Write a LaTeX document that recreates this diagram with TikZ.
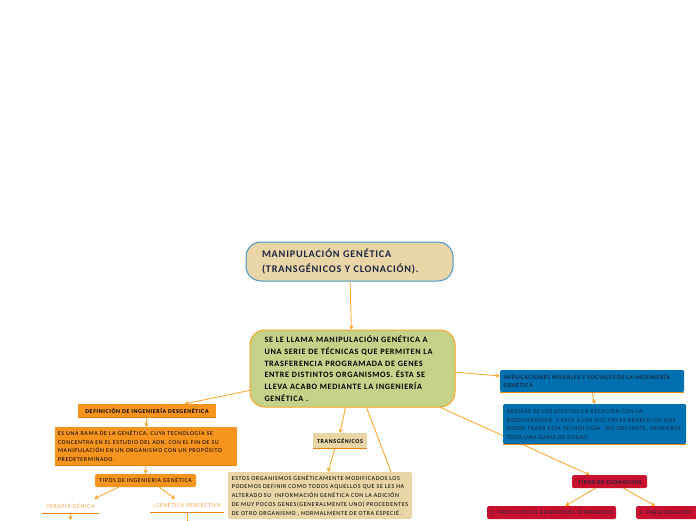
\documentclass[tikz,border=0pt]{standalone}
\usepackage{fontspec}
\setmainfont{Carlito}
\usetikzlibrary{arrows.meta,calc,backgrounds}
\definecolor{conn}{RGB}{248,162,32}
\definecolor{tan}{RGB}{233,213,166}
\definecolor{grn}{RGB}{196,210,138}
\definecolor{org}{RGB}{247,148,30}
\definecolor{orgdark}{RGB}{240,130,10}
\definecolor{blu}{RGB}{0,112,176}
\definecolor{crim}{RGB}{200,16,46}
\definecolor{titleblue}{RGB}{70,150,210}
\definecolor{navy}{RGB}{27,38,66}
\definecolor{lightorg}{RGB}{247,165,70}
\newfontfamily\lsfont[LetterSpace=10]{Carlito}
\newfontfamily\lsbig[LetterSpace=8]{Carlito}
\newfontfamily\lsnarrow[LetterSpace=4]{Carlito}
\tikzset{
  box/.style={inner sep=0pt, align=left, anchor=center},
  tiny/.style={font=\lsfont\fontsize{6}{8.6}\selectfont},
  tinyb/.style={font=\lsfont\bfseries\fontsize{6}{8.6}\selectfont},
  connline/.style={draw=conn, line width=0.8pt},
  conn/.style={connline, -{Stealth[length=4pt,width=4.5pt]}},
  bline/.style={draw=orgdark, line width=1pt},
}
\begin{document}
\begin{tikzpicture}[x=1pt,y=-1pt]
\useasboundingbox (0,0) rectangle (696,520);
% nodes
\node[box, minimum width=207pt, minimum height=39pt, rounded corners=15pt, fill=tan, draw=titleblue, line width=1pt,
  font=\lsbig\bfseries\fontsize{10.2}{15}\selectfont, text=navy, text width=175pt] (title) at (349.5,261.5)
  {MANIPULACIÓN GENÉTICA\\(TRANSGÉNICOS Y CLONACIÓN).};
\node[box, minimum width=205pt, minimum height=77pt, rounded corners=15pt, fill=grn, draw=conn, line width=1pt,
  font=\lsbig\bfseries\fontsize{8.2}{11.7}\selectfont, text width=176pt] (central) at (352.5,368.5)
  {SE LE LLAMA MANIPULACIÓN GENÉTICA A\\UNA SERIE DE TÉCNICAS QUE PERMITEN LA\\TRASFERENCIA PROGRAMADA DE GENES\\ENTRE DISTINTOS ORGANISMOS. ÉSTA SE\\LLEVA ACABO MEDIANTE LA INGENIERÍA\\GENÉTICA .};
\node[box, tinyb, align=center, minimum width=138pt, minimum height=13pt, fill=org] (def) at (147,410.5)
  {DEFINICIÓN DE INGENIERÍA DESGENÉTICA};
\node[box, tiny, minimum width=182pt, minimum height=38pt, fill=org, text width=176pt] (esuna) at (146,446)
  {ES UNA RAMA DE LA GENÉTICA, CUYA TECNOLOGÍA SE\\CONCENTRA EN EL ESTUDIO DEL ADN, CON EL FIN DE SU\\MANIPULACIÓN EN UN ORGANISMO CON UN PROPÓSITO\\PREDETERMINADO.};
\node[box, tiny, align=center, minimum width=101pt, minimum height=13pt, fill=org, rounded corners=1.5pt] (tiposing) at (145.5,480.5)
  {TIPOS DE INGENIERIA GENÉTICA};
\node[box, tiny, align=center, minimum width=57pt, minimum height=14pt, text=lightorg] (terapia) at (70.5,506)
  {TERAPÍA GÉNICA};
\node[box, tiny, align=center, minimum width=74pt, minimum height=13pt, text=lightorg] (perfectiva) at (187,505.5)
  {¡GENÉTICA PERFECTIVA};
\node[box, tinyb, align=center, minimum width=54pt, minimum height=15pt, fill=tan] (trans) at (340,440.5)
  {TRANSGÉNICOS};
\node[box, font=\lsfont\fontsize{6.05}{8.7}\selectfont, minimum width=184pt, minimum height=47pt, fill=tan, rounded corners=2pt, align=left] (estos) at (320,495.5)
  {ESTOS ORGANISMOS GENÉTICAMENTE MODIFICADOS LOS\\PODEMOS DEFINIR COMO TODOS AQUELLOS QUE SE LES HA\\ALTERADO SU \ INFORMACIÓN GENÉTICA CON LA ADICIÓN\\DE MUY POCOS GENES(GENERALMENTE UNO) PROCEDENTES\\DE OTRO ORGANISMO , NORMALMENTE DE OTRA ESPECIÉ .};
\node[box, tinyb, minimum width=184pt, minimum height=22pt, fill=blu, rounded corners=1.5pt, text=navy, text width=177pt] (impl) at (592,381)
  {IMPLICACIONES MORALES Y SOCIALES DE LA INGENIERÍA\\GENÉTICA};
\node[box, tiny, minimum width=183pt, minimum height=40pt, fill=blu, rounded corners=1.5pt, text=navy, text width=176pt] (ademas) at (594.5,424)
  {ADEMÁS DE LOS EFECTOS EN RELACIÓN CON LA\\BIODIVERSIDAD, Y PESE A LOS MÚLTIPLES BENEFICIOS QUE\\PUEDE TRAER ESTA TECNOLOGÍA , NO OBSTANTE, DESPIERTA\\TODA UNA GAMA DE DUDAS.};
\node[box, tinyb, align=center, minimum width=75pt, minimum height=13pt, fill=crim, rounded corners=1.5pt, text=navy] (tiposclon) at (609.5,481.5)
  {TIPOS DE CLONACIÓN};
\node[box, tiny, align=center, minimum width=129pt, minimum height=13pt, fill=crim, rounded corners=1.5pt, text=navy] (part) at (551.5,512.5)
  {1. PARTICIÓN DE EMBRIONES TEMPRANOS};
\node[box, font=\lsnarrow\fontsize{5.8}{8.6}\selectfont, anchor=west, align=left, minimum width=70pt, minimum height=13pt, fill=crim, rounded corners=1.5pt, text=navy, text width=66pt] (para) at (636,512.5)
  {\hspace*{1.5pt}2. PARACLONACIÓN};
% bottom borders
\draw[bline] (def.south west) -- (def.south east);
\draw[bline] (esuna.south west) -- (esuna.south east);
\draw[bline] (trans.south west) -- (trans.south east);
\draw[bline] (impl.south west) -- (impl.south east);
\draw[bline] (ademas.south west) -- (ademas.south east);
\draw[bline, line width=0.8pt] (terapia.south west) -- (terapia.south east);
\draw[bline, line width=0.8pt] (perfectiva.south west) -- (perfectiva.south east);
\coordinate (tdown) at (70.5,520);
\coordinate (pdown) at (187,526);
% connectors
\begin{scope}[on background layer]
\draw[conn] (title) -- (central);
\draw[conn] (central.192) -- ($(def.north)+(38,0)$);
\draw[conn] (central.-2) -- ($(impl.west)+(0,-5)$);
\draw[conn] ($(central.south)+(-7,0)$) -- (trans.north);
\draw[connline] ($(central.south)+(14,0)$) -- ($(estos.north)+(71,0)$);
\draw[conn] ($(central.south east)+(-15,0)$) -- ($(tiposclon.north)+(-20,0)$);
\draw[conn] ($(trans.south)+(-5,0)$) -- ($(estos.north)+(8,0)$);
\draw[conn] (def.south) -- (esuna.north);
\draw[conn] (esuna.south) -- (tiposing.north);
\draw[conn] ($(tiposing.south)+(-27,0)$) -- ($(terapia.north east)+(-5,0)$);
\draw[conn] ($(tiposing.south)+(14,0)$) -- ($(perfectiva.north)+(-12,0)$);
\draw[conn] (terapia.south) -- (tdown);
\draw[conn] (perfectiva.south) -- (pdown);
\draw[conn] (impl.south) -- (ademas.north);
\draw[conn] ($(tiposclon.south)+(-14,0)$) -- ($(part.north)+(14,0)$);
\draw[conn] ($(tiposclon.south)+(14,0)$) -- ($(para.north)+(-16,0)$);
\end{scope}
\end{tikzpicture}
\end{document}
